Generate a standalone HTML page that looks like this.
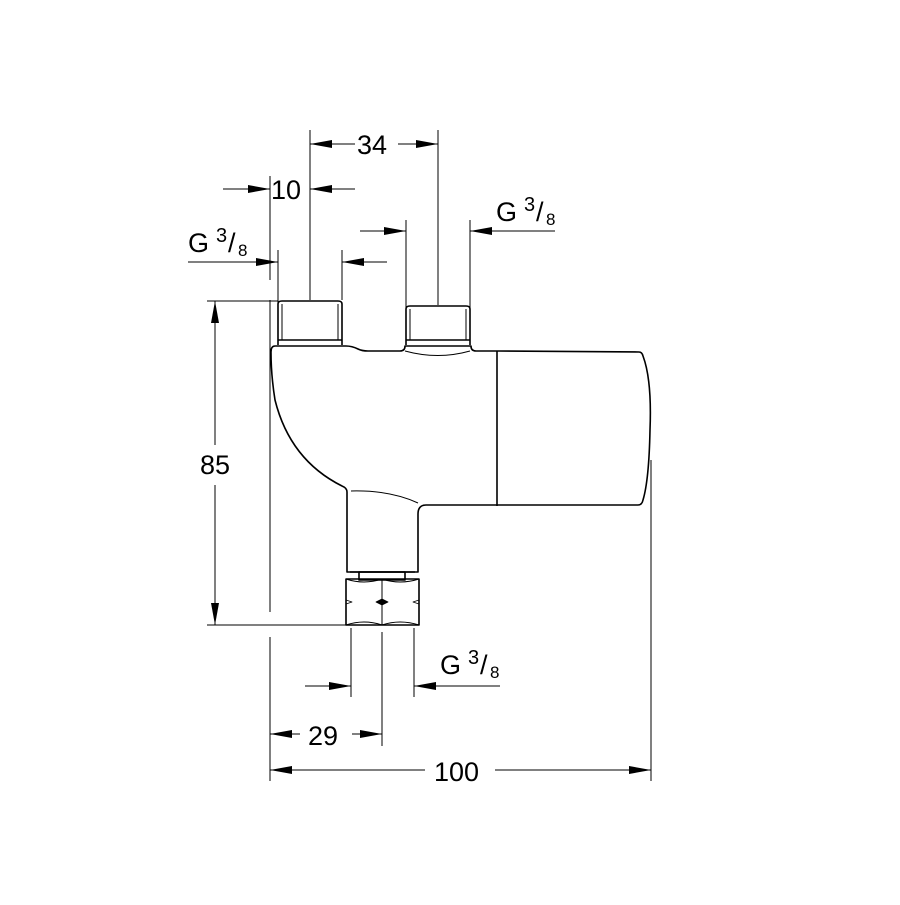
<!DOCTYPE html>
<html><head><style>
html,body{margin:0;padding:0;background:#fff}
text{font-family:"Liberation Sans",Arial,sans-serif;fill:#000}
</style></head><body>
<svg width="900" height="900" viewBox="0 0 900 900" xmlns="http://www.w3.org/2000/svg">
<defs>
<marker id="a" viewBox="0 0 22 8" refX="22" refY="4" markerWidth="22" markerHeight="8" markerUnits="userSpaceOnUse" orient="auto"><path d="M0,0 L22,4 L0,8 Z" fill="#000"/></marker>
</defs>
<g stroke="#000" stroke-width="1" fill="none">
<!-- extension lines -->
<line x1="310" y1="130" x2="310" y2="300"/>
<line x1="438" y1="130" x2="438" y2="305"/>
<line x1="270" y1="176" x2="270" y2="280"/>
<line x1="270" y1="300" x2="270" y2="612"/>
<line x1="270" y1="637" x2="270" y2="781"/>
<line x1="278" y1="250" x2="278" y2="345"/>
<line x1="342" y1="250" x2="342" y2="300"/>
<line x1="406" y1="220" x2="406" y2="345"/>
<line x1="470" y1="220" x2="470" y2="345"/>
<line x1="207" y1="301" x2="278" y2="301"/>
<line x1="207" y1="625" x2="346" y2="625"/>
<line x1="351" y1="628" x2="351" y2="697"/>
<line x1="414" y1="628" x2="414" y2="697"/>
<line x1="382" y1="632" x2="382" y2="746"/>
<line x1="651" y1="460" x2="651" y2="781"/>
<!-- dims -->
<line x1="355" y1="144" x2="310" y2="144" marker-end="url(#a)"/>
<line x1="398" y1="144" x2="438" y2="144" marker-end="url(#a)"/>
<line x1="223" y1="189" x2="270" y2="189" marker-end="url(#a)"/>
<line x1="355" y1="189" x2="310" y2="189" marker-end="url(#a)"/>
<line x1="188" y1="262" x2="278" y2="262" marker-end="url(#a)"/>
<line x1="387" y1="262" x2="342" y2="262" marker-end="url(#a)"/>
<line x1="360" y1="231" x2="406" y2="231" marker-end="url(#a)"/>
<line x1="555" y1="231" x2="470" y2="231" marker-end="url(#a)"/>
<line x1="215" y1="445" x2="215" y2="301" marker-end="url(#a)"/>
<line x1="215" y1="485" x2="215" y2="625" marker-end="url(#a)"/>
<line x1="305" y1="686" x2="351" y2="686" marker-end="url(#a)"/>
<line x1="500" y1="686" x2="414" y2="686" marker-end="url(#a)"/>
<line x1="300" y1="734" x2="270" y2="734" marker-end="url(#a)"/>
<line x1="352" y1="734" x2="382" y2="734" marker-end="url(#a)"/>
<line x1="425" y1="770" x2="270" y2="770" marker-end="url(#a)"/>
<line x1="495" y1="770" x2="651" y2="770" marker-end="url(#a)"/>
</g>
<g stroke="#000" stroke-width="1.6" fill="none" stroke-linejoin="round">
<!-- fittings -->
<path d="M278,345 V304 Q278,301 282,301 H338 Q342,301 342,304 V345"/>
<line x1="282" y1="304" x2="282" y2="340" stroke-width="1"/><line x1="338" y1="304" x2="338" y2="340" stroke-width="1"/>
<line x1="278" y1="340" x2="342" y2="340"/>
<path d="M406,345 V309 Q406,306 410,306 H466 Q470,306 470,309 V345"/>
<line x1="410" y1="309" x2="410" y2="340" stroke-width="1"/><line x1="466" y1="309" x2="466" y2="340" stroke-width="1"/>
<line x1="406" y1="340" x2="470" y2="340"/>
<!-- body -->
<path d="M275,346 H346 Q352,346 358,349 Q362,351 368,351 H400 Q405,351 405,346 H471 Q471,351 476,351 H497 L639,352 Q642,352 643,356 Q652,380 650,430 Q649,480 643,500 Q642,505 638,505 H426 Q418,505 418,514 V572 H347 V492 Q347,488 342,486 Q290,460 275,400 Q271,375 271,352 Q271,346 275,346 Z"/>
<line x1="497" y1="351" x2="497" y2="506"/>
<path d="M405,351 Q438,360 470,351" stroke-width="1"/>
<path d="M351,491 Q390,490 418,503" stroke-width="1"/>
<line x1="350" y1="572" x2="415" y2="572"/>
<rect x="359" y="572" width="46" height="8"/>
<!-- nut -->
<rect x="346" y="579" width="73" height="46"/>
<line x1="382" y1="579" x2="382" y2="625" stroke-width="1"/>
<path d="M346,579 Q364,585 382,579 Q400,585 419,579" stroke-width="1"/>
<path d="M346,625 Q364,619 382,625 Q400,619 419,625" stroke-width="1"/>
<path d="M376,602 L382,599 L388,602 L382,605 Z" fill="#000" stroke-width="0.8"/>
<path d="M346,600 L352,602 L346,604" stroke-width="0.8"/>
<path d="M419,600 L413,602 L419,604" stroke-width="0.8"/>
</g>
<!-- text -->
<g font-size="27">
<text x="357" y="154">34</text>
<text x="271" y="199">10</text>
<text x="188" y="252">G</text><text x="216" y="242" font-size="20">3</text><text x="228" y="252">/</text><text x="238" y="256" font-size="17">8</text>
<text x="496" y="221">G</text><text x="524" y="211" font-size="20">3</text><text x="536" y="221">/</text><text x="546" y="225" font-size="17">8</text>
<text x="440" y="674">G</text><text x="468" y="664" font-size="20">3</text><text x="480" y="674">/</text><text x="490" y="678" font-size="17">8</text>
<text x="200" y="474">85</text>
<text x="308" y="745">29</text>
<text x="434" y="781">100</text>
</g>
</svg>
</body></html>
